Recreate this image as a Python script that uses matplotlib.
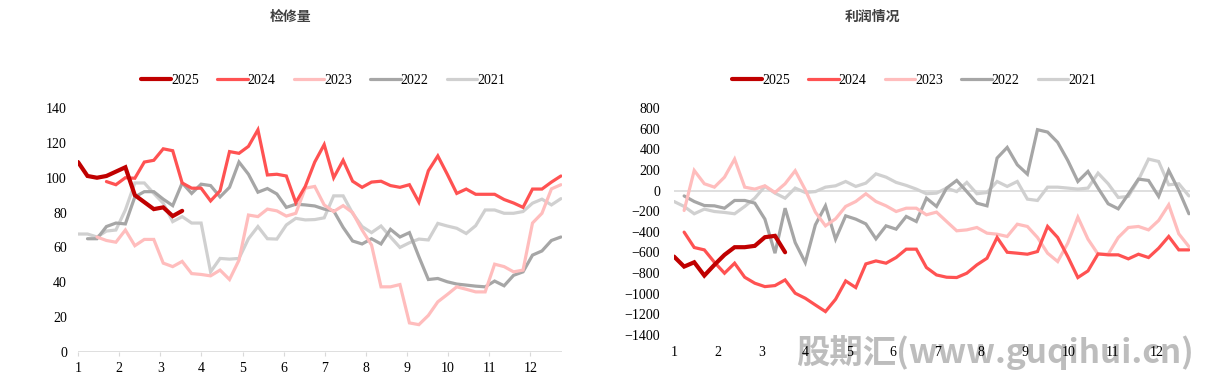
import numpy as np
import matplotlib
matplotlib.use("Agg")
import matplotlib.pyplot as plt

# weekly data, week 1 starts at month 1
months = list(range(1, 13))
years = ["2025", "2024", "2023", "2022", "2021"]
colors = ["#C00000", "#FF5252", "#FFBDBD", "#A6A6A6", "#D0D0D0"]
widths = [3.0, 2.3, 2.3, 2.3, 2.3]

# 检修量
maint_2025 = [109, 101, 100, 101, 103.5, 106, 90, 86, 82, 83, 78, 81]
maint_2024 = [None, None, None, 97.8, 96, 100, 99.7, 109, 110, 116.6, 115.5, 97, 94, 94, 86.7, 92.5,
              115, 114, 118, 127.5, 101.6, 102, 101, 85.7, 95, 109, 119, 100, 110, 98, 94.5, 97.5,
              98, 95.5, 94.5, 96, 86, 104, 112.5, 102, 91, 93.5, 90.5, 90.5, 90.5, 87.5, 85.5, 83,
              93.5, 93.5, 97.5, 101]
maint_2023 = [None, None, 66, 64, 63, 70, 61, 64.6, 64.6, 51, 49, 52, 45, 44.5, 43.7, 47, 41.6, 52.7,
              78.6, 77.7, 82, 81, 78, 79.6, 94, 95, 84.4, 80.6, 84, 80, 70, 61.4, 37.4, 37.4, 38.7,
              16.7, 15.7, 21, 28.8, 33, 37.4, 36, 34.5, 34.5, 50.4, 49, 46, 47, 74, 79.6, 93.6, 96]
maint_2022 = [None, 65, 65, 72, 74, 73.5, 89, 92, 92, 87.7, 84, 97, 91, 96.3, 95.5, 89, 94.5, 109,
              102, 91.7, 93.8, 90.7, 83, 84.8, 84.4, 83.8, 82, 81, 71.5, 63.7, 62, 65, 62, 70.4, 66,
              68.5, 54.7, 41.6, 42.2, 40.3, 39, 38.4, 37.8, 37.4, 40.7, 38, 44, 46, 55.6, 58, 64, 66]
maint_2021 = [67.7, 67.7, 66, 69.4, 70, 81.5, 97, 97, 91, 85.4, 74.8, 77.7, 74, 74, 46, 53.7, 53.3,
              53.7, 65, 72, 65, 64.8, 72.9, 76.7, 75.8, 76, 77, 89.6, 89.6, 79.6, 72, 68.5, 72.3, 66,
              60, 62.7, 64.8, 64.3, 73.8, 72.3, 71, 68, 72.5, 81.5, 81.5, 79.6, 79.6, 80.6, 85.4,
              87.7, 84.4, 88]

# 利润情况
profit_2025 = [-640, -737, -695, -824, -720, -623, -549, -549, -536, -452, -439, -598]
profit_2024 = [None, -403, -552, -575, -695, -801, -704, -840, -898, -931, -921, -866, -995, -1044,
               -1109, -1173, -1054, -876, -940, -711, -682, -704, -649, -568, -568, -746, -818, -840,
               -843, -801, -720, -656, -455, -598, -607, -617, -591, -348, -455, -640, -843, -779,
               -614, -623, -623, -662, -617, -649, -559, -445, -575, -575]
profit_2023 = [None, -193, 195, 66, 33, 130, 305, 33, 14, 46, -19, 66, 192, 7, -209, -342, -274, -154,
               -106, -31, -106, -148, -203, -171, -171, -235, -209, -300, -390, -381, -358, -413,
               -423, -445, -326, -348, -455, -607, -688, -510, -258, -471, -617, -617, -455, -358,
               -348, -381, -290, -138, -420, -543]
profit_2022 = [None, -52, -106, -145, -148, -171, -96, -96, -122, -277, -607, -171, -504, -698, -332,
               -148, -471, -245, -277, -323, -468, -342, -374, -251, -300, -74, -154, 24, 98, -10,
               -122, -148, 315, 418, 250, 159, 590, 567, 467, 292, 88, 185, 24, -128, -177, -35, 111,
               98, -57, 195, 1, -225]
profit_2021 = [-106, -154, -225, -180, -203, -212, -225, -154, -74, 40, -25, -74, 24, -19, -10, 33, 46,
               88, 40, 72, 162, 130, 79, 50, 14, -31, -25, 24, -10, 79, -31, -19, 88, 40, 88, -83, -96,
               33, 33, 24, 14, 24, 169, 66, -67, -57, 104, 305, 282, 56, 66, -52]

maint = [maint_2025, maint_2024, maint_2023, maint_2022, maint_2021]
profit = [profit_2025, profit_2024, profit_2023, profit_2022, profit_2021]

serif = "Liberation Serif"
cjk = ["Noto Sans CJK SC", "DejaVu Sans"]


def week_x(vals):
    x = 1 + np.arange(len(vals)) * 7 / 30.4
    y = np.array([np.nan if v is None else v for v in vals], dtype=float)
    return x, y


def draw(ax, data):
    lines = []
    # draw older years first so 2025 stays on top
    for k in range(len(years) - 1, -1, -1):
        x, y = week_x(data[k])
        ln, = ax.plot(x, y, color=colors[k], lw=widths[k], solid_capstyle="round",
                      solid_joinstyle="miter", label=years[k], zorder=3 + (5 - k))
        lines.append(ln)
    lines.reverse()
    for s in ax.spines.values():
        s.set_visible(False)
    ax.set_xlim(1, 12.77)
    ax.set_xticks(months)
    return lines


def legend(ax, handles, cx):
    ax.legend(handles=handles, loc="center", bbox_to_anchor=(cx / 1206, 1 - 80 / 384),
              bbox_transform=fig.transFigure, ncol=5, frameon=False, handlelength=2.2,
              columnspacing=1.3, handletextpad=0.0, prop={"family": serif, "size": 10})


fig = plt.figure(figsize=(12.06, 3.84), dpi=100)

# left: 检修量
ax1 = fig.add_axes([0.0647, 0.0833, 0.4013, 0.6354])
h1 = draw(ax1, maint)
ax1.set_ylim(0, 140)
ax1.set_yticks(range(0, 141, 20))
ax1.axhline(0, color="#D9D9D9", lw=1.2, zorder=1)
ax1.tick_params(axis="y", length=0, pad=8, labelsize=10)
ax1.tick_params(axis="x", length=3, color="#D9D9D9", pad=4, labelsize=10)
for lab in ax1.get_xticklabels() + ax1.get_yticklabels():
    lab.set_fontfamily(serif)
legend(ax1, h1, 323)
fig.text(290 / 1206, 1 - 17 / 384, "检修量", ha="center", va="center", fontsize=10,
         fontweight="bold", color="#404040", family=cjk)

# right: 利润情况
ax2 = fig.add_axes([0.5589, 0.1276, 0.4279, 0.5911])
h2 = draw(ax2, profit)
ax2.set_ylim(-1400, 800)
ax2.set_yticks(range(-1400, 801, 200))
ax2.axhline(0, color="#D9D9D9", lw=1.2, zorder=1)
ax2.tick_params(axis="y", length=0, pad=10, labelsize=10)
ax2.tick_params(axis="x", length=0, pad=8, labelsize=10)
for lab in ax2.get_xticklabels() + ax2.get_yticklabels():
    lab.set_fontfamily(serif)
legend(ax2, h2, 914)
fig.text(872 / 1206, 1 - 17 / 384, "利润情况", ha="center", va="center", fontsize=10,
         fontweight="bold", color="#404040", family=cjk)

# watermark, kept behind the axes so the tick labels stay readable
fig.text(995 / 1206, 1 - 352 / 384, "股期汇(www.guqihui.cn)", ha="center", va="center",
         fontsize=24, fontweight="bold", fontstyle="italic", color="#BDBDBD",
         family=cjk, zorder=-1)

fig.savefig("out.png", dpi=100)
